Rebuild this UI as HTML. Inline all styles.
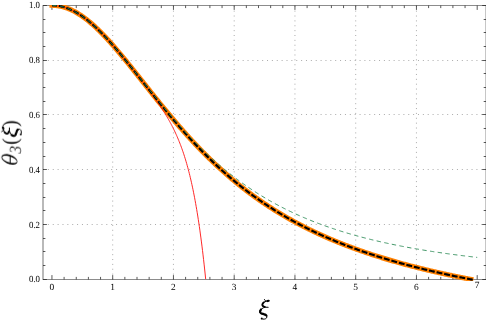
<!DOCTYPE html>
<html><head><meta charset="utf-8"><style>html,body{margin:0;padding:0;background:#fff;}body{width:486px;height:321px;overflow:hidden;font-family:"Liberation Serif",serif;}svg{display:block;}</style></head><body>
<svg width="486" height="321" viewBox="0 0 486 321">
<rect width="486" height="321" fill="#fff"/>
<path d="M112.70,279.50V5.50M173.45,279.50V5.50M234.20,279.50V5.50M294.95,279.50V5.50M355.70,279.50V5.50M416.45,279.50V5.50M43.00,224.50H486.10M43.00,169.50H486.10M43.00,114.50H486.10M43.00,60.50H486.10" stroke="#969696" stroke-width="0.8" stroke-dasharray="1 3.87" fill="none"/>
<path d="M43.00,5.50V279.50M486.10,5.50V279.50" stroke="#222" stroke-width="0.64" fill="none"/>
<path d="M42.70,5.50H486.10M42.70,279.50H486.10" stroke="#505050" stroke-width="0.66" fill="none"/>
<path d="M51.95,279.50v-4.4M51.95,5.50v4.4M64.10,279.50v-2.6M64.10,5.50v2.6M76.25,279.50v-2.6M76.25,5.50v2.6M88.40,279.50v-2.6M88.40,5.50v2.6M100.55,279.50v-2.6M100.55,5.50v2.6M112.70,279.50v-4.4M112.70,5.50v4.4M124.85,279.50v-2.6M124.85,5.50v2.6M137.00,279.50v-2.6M137.00,5.50v2.6M149.15,279.50v-2.6M149.15,5.50v2.6M161.30,279.50v-2.6M161.30,5.50v2.6M173.45,279.50v-4.4M173.45,5.50v4.4M185.60,279.50v-2.6M185.60,5.50v2.6M197.75,279.50v-2.6M197.75,5.50v2.6M209.90,279.50v-2.6M209.90,5.50v2.6M222.05,279.50v-2.6M222.05,5.50v2.6M234.20,279.50v-4.4M234.20,5.50v4.4M246.35,279.50v-2.6M246.35,5.50v2.6M258.50,279.50v-2.6M258.50,5.50v2.6M270.65,279.50v-2.6M270.65,5.50v2.6M282.80,279.50v-2.6M282.80,5.50v2.6M294.95,279.50v-4.4M294.95,5.50v4.4M307.10,279.50v-2.6M307.10,5.50v2.6M319.25,279.50v-2.6M319.25,5.50v2.6M331.40,279.50v-2.6M331.40,5.50v2.6M343.55,279.50v-2.6M343.55,5.50v2.6M355.70,279.50v-4.4M355.70,5.50v4.4M367.85,279.50v-2.6M367.85,5.50v2.6M380.00,279.50v-2.6M380.00,5.50v2.6M392.15,279.50v-2.6M392.15,5.50v2.6M404.30,279.50v-2.6M404.30,5.50v2.6M416.45,279.50v-4.4M416.45,5.50v4.4M428.60,279.50v-2.6M428.60,5.50v2.6M440.75,279.50v-2.6M440.75,5.50v2.6M452.90,279.50v-2.6M452.90,5.50v2.6M465.05,279.50v-2.6M465.05,5.50v2.6M477.20,279.50v-4.4M477.20,5.50v4.4M43.00,279.50h3.9M486.10,279.50h-3.9M43.00,265.50h2.4M486.10,265.50h-2.4M43.00,251.50h2.4M486.10,251.50h-2.4M43.00,238.50h2.4M486.10,238.50h-2.4M43.00,224.50h3.9M486.10,224.50h-3.9M43.00,210.50h2.4M486.10,210.50h-2.4M43.00,197.50h2.4M486.10,197.50h-2.4M43.00,183.50h2.4M486.10,183.50h-2.4M43.00,169.50h3.9M486.10,169.50h-3.9M43.00,156.50h2.4M486.10,156.50h-2.4M43.00,142.50h2.4M486.10,142.50h-2.4M43.00,128.50h2.4M486.10,128.50h-2.4M43.00,114.50h3.9M486.10,114.50h-3.9M43.00,101.50h2.4M486.10,101.50h-2.4M43.00,87.50h2.4M486.10,87.50h-2.4M43.00,73.50h2.4M486.10,73.50h-2.4M43.00,60.50h3.9M486.10,60.50h-3.9M43.00,46.50h2.4M486.10,46.50h-2.4M43.00,32.50h2.4M486.10,32.50h-2.4M43.00,19.50h2.4M486.10,19.50h-2.4M43.00,5.50h3.9M486.10,5.50h-3.9" stroke="#222" stroke-width="0.75" fill="none"/>
<clipPath id="c"><rect x="43.0" y="5" width="443.1" height="275.9"/></clipPath>
<g fill="none" clip-path="url(#c)">
<path d="M51.95,5.35 L51.96,5.35 L52.80,5.36 L53.64,5.39 L54.47,5.43 L55.31,5.49 L56.15,5.57 L56.99,5.66 L57.83,5.78 L58.67,5.91 L59.51,6.06 L60.35,6.22 L61.19,6.40 L62.03,6.60 L62.87,6.82 L63.71,7.05 L64.55,7.30 L65.39,7.57 L66.23,7.85 L67.07,8.15 L67.91,8.47 L68.75,8.80 L69.59,9.15 L70.43,9.52 L71.27,9.90 L72.11,10.30 L72.95,10.71 L73.79,11.14 L74.63,11.58 L75.47,12.04 L76.31,12.52 L77.14,13.01 L77.98,13.51 L78.82,14.03 L79.66,14.57 L80.50,15.11 L81.34,15.68 L82.18,16.25 L83.02,16.85 L83.86,17.45 L84.70,18.07 L85.54,18.70 L86.38,19.34 L87.22,20.00 L88.06,20.67 L88.90,21.36 L89.74,22.05 L90.58,22.76 L91.42,23.48 L92.26,24.21 L93.10,24.95 L93.94,25.71 L94.78,26.47 L95.62,27.25 L96.46,28.03 L97.30,28.83 L98.14,29.64 L98.98,30.46 L99.81,31.29 L100.65,32.12 L101.49,32.97 L102.33,33.83 L103.17,34.69 L104.01,35.56 L104.85,36.45 L105.69,37.34 L106.53,38.23 L107.37,39.14 L108.21,40.06 L109.05,40.98 L109.89,41.91 L110.73,42.84 L111.57,43.78 L112.41,44.73 L113.25,45.69 L114.09,46.65 L114.93,47.62 L115.77,48.59 L116.61,49.57 L117.45,50.56 L118.29,51.55 L119.13,52.54 L119.97,53.54 L120.81,54.55 L121.65,55.55 L122.48,56.57 L123.32,57.58 L124.16,58.60 L125.00,59.63 L125.84,60.65 L126.68,61.69 L127.52,62.72 L128.36,63.76 L129.20,64.80 L130.04,65.84 L130.88,66.88 L131.72,67.93 L132.56,68.98 L133.40,70.03 L134.24,71.08 L135.08,72.13 L135.92,73.19 L136.76,74.24 L137.60,75.30 L138.44,76.36 L139.28,77.41 L140.12,78.47 L140.96,79.53 L141.80,80.59 L142.64,81.65 L143.48,82.71 L144.32,83.77 L145.15,84.83 L145.99,85.89 L146.83,86.95 L147.67,88.01 L148.51,89.07 L149.35,90.12 L150.19,91.18 L151.03,92.23 L151.87,93.29 L152.71,94.34 L153.55,95.39 L154.39,96.44 L155.23,97.49 L156.07,98.53 L156.91,99.58 L157.75,100.62 L158.59,101.66 L159.43,102.70 L160.27,103.73 L161.11,104.76 L161.95,105.80 L162.79,106.82 L163.63,107.85 L164.47,108.88 L165.31,109.90 L166.15,110.91 L166.99,111.93 L167.82,112.94 L168.66,113.95 L169.50,114.96 L170.34,115.96 L171.18,116.96 L172.02,117.96 L172.86,118.96 L173.70,119.95 L174.54,120.93 L175.38,121.92 L176.22,122.90 L177.06,123.88 L177.90,124.85 L178.74,125.82 L179.58,126.79 L180.42,127.75 L181.26,128.71 L182.10,129.66 L182.94,130.62 L183.78,131.56 L184.62,132.51 L185.46,133.45 L186.30,134.38 L187.14,135.32 L187.98,136.24 L188.82,137.17 L189.66,138.09 L190.49,139.01 L191.33,139.92 L192.17,140.83 L193.01,141.73 L193.85,142.63 L194.69,143.53 L195.53,144.42 L196.37,145.31 L197.21,146.19 L198.05,147.07 L198.89,147.94 L199.73,148.81 L200.57,149.68 L201.41,150.54 L202.25,151.40 L203.09,152.26 L203.93,153.11 L204.77,153.95 L205.61,154.79 L206.45,155.63 L207.29,156.46 L208.13,157.29 L208.97,158.12 L209.81,158.94 L210.65,159.75 L211.49,160.56 L212.33,161.37 L213.16,162.17 L214.00,162.97 L214.84,163.77 L215.68,164.56 L216.52,165.34 L217.36,166.12 L218.20,166.90 L219.04,167.67 L219.88,168.44 L220.72,169.21 L221.56,169.97 L222.40,170.73 L223.24,171.48 L224.08,172.23 L224.92,172.97 L225.76,173.71 L226.60,174.45 L227.44,175.18 L228.28,175.91 L229.12,176.63 L229.96,177.35 L230.80,178.06 L231.64,178.78 L232.48,179.48 L233.32,180.19 L234.16,180.88 L235.00,181.58 L235.83,182.27 L236.67,182.96 L237.51,183.64 L238.35,184.32 L239.19,185.00 L240.03,185.67 L240.87,186.34 L241.71,187.00 L242.55,187.66 L243.39,188.32 L244.23,188.97 L245.07,189.62 L245.91,190.26 L246.75,190.90 L247.59,191.54 L248.43,192.17 L249.27,192.80 L250.11,193.43 L250.95,194.05 L251.79,194.67 L252.63,195.28 L253.47,195.90 L254.31,196.50 L255.15,197.11 L255.99,197.71 L256.83,198.31 L257.67,198.90 L258.50,199.49 L259.34,200.08 L260.18,200.66 L261.02,201.24 L261.86,201.82 L262.70,202.39 L263.54,202.96 L264.38,203.52 L265.22,204.09 L266.06,204.65 L266.90,205.20 L267.74,205.76 L268.58,206.31 L269.42,206.85 L270.26,207.39 L271.10,207.93 L271.94,208.47 L272.78,209.00 L273.62,209.53 L274.46,210.06 L275.30,210.59 L276.14,211.11 L276.98,211.62 L277.82,212.14 L278.66,212.65 L279.50,213.16 L280.33,213.67 L281.17,214.17 L282.01,214.67 L282.85,215.17 L283.69,215.66 L284.53,216.15 L285.37,216.64 L286.21,217.12 L287.05,217.61 L287.89,218.09 L288.73,218.56 L289.57,219.04 L290.41,219.51 L291.25,219.98 L292.09,220.44 L292.93,220.90 L293.77,221.36 L294.61,221.82 L295.45,222.28 L296.29,222.73 L297.13,223.18 L297.97,223.63 L298.81,224.07 L299.65,224.51 L300.49,224.95 L301.33,225.39 L302.17,225.82 L303.00,226.25 L303.84,226.68 L304.68,227.11 L305.52,227.53 L306.36,227.95 L307.20,228.37 L308.04,228.79 L308.88,229.20 L309.72,229.62 L310.56,230.03 L311.40,230.43 L312.24,230.84 L313.08,231.24 L313.92,231.64 L314.76,232.04 L315.60,232.44 L316.44,232.83 L317.28,233.22 L318.12,233.61 L318.96,234.00 L319.80,234.38 L320.64,234.76 L321.48,235.14 L322.32,235.52 L323.16,235.90 L324.00,236.27 L324.84,236.65 L325.67,237.01 L326.51,237.38 L327.35,237.75 L328.19,238.11 L329.03,238.47 L329.87,238.83 L330.71,239.19 L331.55,239.55 L332.39,239.90 L333.23,240.25 L334.07,240.60 L334.91,240.95 L335.75,241.30 L336.59,241.64 L337.43,241.98 L338.27,242.32 L339.11,242.66 L339.95,243.00 L340.79,243.33 L341.63,243.66 L342.47,244.00 L343.31,244.33 L344.15,244.65 L344.99,244.98 L345.83,245.30 L346.67,245.63 L347.51,245.95 L348.34,246.26 L349.18,246.58 L350.02,246.90 L350.86,247.21 L351.70,247.52 L352.54,247.83 L353.38,248.14 L354.22,248.45 L355.06,248.75 L355.90,249.06 L356.74,249.36 L357.58,249.66 L358.42,249.96 L359.26,250.26 L360.10,250.55 L360.94,250.85 L361.78,251.14 L362.62,251.43 L363.46,251.72 L364.30,252.01 L365.14,252.30 L365.98,252.58 L366.82,252.87 L367.66,253.15 L368.50,253.43 L369.34,253.71 L370.18,253.99 L371.01,254.26 L371.85,254.54 L372.69,254.81 L373.53,255.09 L374.37,255.36 L375.21,255.63 L376.05,255.89 L376.89,256.16 L377.73,256.43 L378.57,256.69 L379.41,256.95 L380.25,257.22 L381.09,257.48 L381.93,257.74 L382.77,257.99 L383.61,258.25 L384.45,258.50 L385.29,258.76 L386.13,259.01 L386.97,259.26 L387.81,259.51 L388.65,259.76 L389.49,260.01 L390.33,260.26 L391.17,260.50 L392.01,260.75 L392.85,260.99 L393.68,261.23 L394.52,261.47 L395.36,261.71 L396.20,261.95 L397.04,262.19 L397.88,262.42 L398.72,262.66 L399.56,262.89 L400.40,263.12 L401.24,263.36 L402.08,263.59 L402.92,263.81 L403.76,264.04 L404.60,264.27 L405.44,264.50 L406.28,264.72 L407.12,264.95 L407.96,265.17 L408.80,265.39 L409.64,265.61 L410.48,265.83 L411.32,266.05 L412.16,266.27 L413.00,266.48 L413.84,266.70 L414.68,266.92 L415.52,267.13 L416.35,267.34 L417.19,267.55 L418.03,267.76 L418.87,267.97 L419.71,268.18 L420.55,268.39 L421.39,268.60 L422.23,268.80 L423.07,269.01 L423.91,269.21 L424.75,269.42 L425.59,269.62 L426.43,269.82 L427.27,270.02 L428.11,270.22 L428.95,270.42 L429.79,270.62 L430.63,270.82 L431.47,271.01 L432.31,271.21 L433.15,271.40 L433.99,271.60 L434.83,271.79 L435.67,271.98 L436.51,272.17 L437.35,272.36 L438.19,272.55 L439.02,272.74 L439.86,272.93 L440.70,273.12 L441.54,273.30 L442.38,273.49 L443.22,273.67 L444.06,273.86 L444.90,274.04 L445.74,274.22 L446.58,274.40 L447.42,274.58 L448.26,274.76 L449.10,274.94 L449.94,275.12 L450.78,275.30 L451.62,275.48 L452.46,275.65 L453.30,275.83 L454.14,276.00 L454.98,276.18 L455.82,276.35 L456.66,276.52 L457.50,276.69 L458.34,276.86 L459.18,277.03 L460.02,277.20 L460.86,277.37 L461.69,277.54 L462.53,277.71 L463.37,277.88 L464.21,278.04 L465.05,278.21 L465.89,278.37 L466.73,278.54 L467.57,278.70 L468.41,278.86 L469.25,279.03 L470.09,279.19 L470.93,279.35" stroke="#ff8000" stroke-width="5" stroke-linecap="square"/>
<path d="M51.95,5.35 L52.48,5.35 L53.01,5.36 L53.53,5.38 L54.06,5.41 L54.59,5.44 L55.12,5.47 L55.65,5.52 L56.18,5.57 L56.70,5.63 L57.23,5.69 L57.76,5.77 L58.29,5.85 L58.82,5.93 L59.35,6.03 L59.87,6.12 L60.40,6.23 L60.93,6.34 L61.46,6.46 L61.99,6.59 L62.52,6.72 L63.04,6.87 L63.57,7.01 L64.10,7.17 L64.63,7.33 L65.16,7.49 L65.68,7.67 L66.21,7.85 L66.74,8.03 L67.27,8.23 L67.80,8.43 L68.33,8.63 L68.85,8.85 L69.38,9.06 L69.91,9.29 L70.44,9.52 L70.97,9.76 L71.50,10.00 L72.02,10.26 L72.55,10.51 L73.08,10.78 L73.61,11.05 L74.14,11.32 L74.67,11.60 L75.19,11.89 L75.72,12.19 L76.25,12.49 L76.78,12.79 L77.31,13.10 L77.83,13.42 L78.36,13.74 L78.89,14.07 L79.42,14.41 L79.95,14.75 L80.48,15.10 L81.00,15.45 L81.53,15.81 L82.06,16.17 L82.59,16.54 L83.12,16.91 L83.65,17.29 L84.17,17.68 L84.70,18.07 L85.23,18.46 L85.76,18.87 L86.29,19.27 L86.82,19.68 L87.34,20.10 L87.87,20.52 L88.40,20.95 L88.93,21.38 L89.46,21.82 L89.98,22.26 L90.51,22.70 L91.04,23.15 L91.57,23.61 L92.10,24.07 L92.63,24.53 L93.15,25.00 L93.68,25.48 L94.21,25.95 L94.74,26.44 L95.27,26.92 L95.80,27.41 L96.32,27.91 L96.85,28.41 L97.38,28.91 L97.91,29.42 L98.44,29.93 L98.97,30.45 L99.49,30.97 L100.02,31.49 L100.55,32.02 L101.08,32.55 L101.61,33.08 L102.13,33.62 L102.66,34.16 L103.19,34.71 L103.72,35.26 L104.25,35.81 L104.78,36.37 L105.30,36.92 L105.83,37.49 L106.36,38.05 L106.89,38.62 L107.42,39.19 L107.95,39.77 L108.47,40.34 L109.00,40.92 L109.53,41.51 L110.06,42.09 L110.59,42.68 L111.12,43.28 L111.64,43.87 L112.17,44.47 L112.70,45.07 L113.23,45.67 L113.76,46.27 L114.28,46.88 L114.81,47.49 L115.34,48.10 L115.87,48.72 L116.40,49.33 L116.93,49.95 L117.45,50.57 L117.98,51.20 L118.51,51.82 L119.04,52.45 L119.57,53.08 L120.10,53.71 L120.62,54.34 L121.15,54.98 L121.68,55.61 L122.21,56.25 L122.74,56.89 L123.27,57.53 L123.79,58.17 L124.32,58.82 L124.85,59.47 L125.38,60.11 L125.91,60.76 L126.43,61.41 L126.96,62.07 L127.49,62.72 L128.02,63.38 L128.55,64.03 L129.08,64.69 L129.60,65.35 L130.13,66.01 L130.66,66.67 L131.19,67.33 L131.72,68.00 L132.25,68.66 L132.77,69.33 L133.30,70.00 L133.83,70.66 L134.36,71.33 L134.89,72.01 L135.42,72.68 L135.94,73.35 L136.47,74.02 L137.00,74.70 L137.53,75.38 L138.06,76.05 L138.58,76.73 L139.11,77.41 L139.64,78.09 L140.17,78.78 L140.70,79.46 L141.23,80.14 L141.75,80.83 L142.28,81.52 L142.81,82.21 L143.34,82.89 L143.87,83.59 L144.40,84.28 L144.92,84.97 L145.45,85.67 L145.98,86.37 L146.51,87.06 L147.04,87.77 L147.57,88.47 L148.09,89.17 L148.62,89.88 L149.15,90.59 L149.68,91.30 L150.21,92.01 L150.73,92.73 L151.26,93.44 L151.79,94.16 L152.32,94.89 L152.85,95.61 L153.38,96.34 L153.90,97.07 L154.43,97.81 L154.96,98.55 L155.49,99.29 L156.02,100.03 L156.55,100.78 L157.07,101.54 L157.60,102.30 L158.13,103.06 L158.66,103.83 L159.19,104.60 L159.72,105.38 L160.24,106.17 L160.77,106.96 L161.30,107.76 L161.83,108.56 L162.36,109.37 L162.88,110.19 L163.41,111.01 L163.94,111.85 L164.47,112.69 L165.00,113.54 L165.53,114.40 L166.05,115.26 L166.58,116.14 L167.11,117.03 L167.64,117.93 L168.17,118.84 L168.70,119.77 L169.22,120.70 L169.75,121.65 L170.28,122.61 L170.81,123.59 L171.34,124.58 L171.87,125.59 L172.39,126.61 L172.92,127.65 L173.45,128.70 L173.98,129.78 L174.51,130.87 L175.03,131.99 L175.56,133.12 L176.09,134.28 L176.62,135.46 L177.15,136.66 L177.68,137.88 L178.20,139.14 L178.73,140.41 L179.26,141.72 L179.79,143.05 L180.32,144.41 L180.85,145.81 L181.37,147.23 L181.90,148.69 L182.43,150.19 L182.96,151.71 L183.49,153.28 L184.02,154.88 L184.54,156.53 L185.07,158.22 L185.60,159.94 L186.13,161.72 L186.66,163.54 L187.18,165.41 L187.71,167.32 L188.24,169.29 L188.77,171.32 L189.30,173.40 L189.83,175.53 L190.35,177.73 L190.88,179.98 L191.41,182.31 L191.94,184.69 L192.47,187.15 L193.00,189.67 L193.52,192.27 L194.05,194.95 L194.58,197.70 L195.11,200.53 L195.64,203.45 L196.17,206.46 L196.69,209.55 L197.22,212.74 L197.75,216.02 L198.28,219.40 L198.81,222.88 L199.33,226.47 L199.86,230.17 L200.39,233.98 L200.92,237.91 L201.45,241.95 L201.98,246.12 L202.50,250.42 L203.03,254.85 L203.56,259.41 L204.09,264.12 L204.62,268.97 L205.15,273.97 L205.67,279.12" stroke="#ff1010" stroke-width="0.9"/>
<path d="M51.95,5.35 L51.96,5.35 L52.80,5.36 L53.64,5.39 L54.47,5.43 L55.31,5.49 L56.15,5.57 L56.99,5.66 L57.83,5.78 L58.67,5.91 L59.51,6.06 L60.35,6.22 L61.19,6.40 L62.03,6.60 L62.87,6.82 L63.71,7.05 L64.55,7.30 L65.39,7.57 L66.23,7.85 L67.07,8.15 L67.91,8.47 L68.75,8.80 L69.59,9.15 L70.43,9.52 L71.27,9.90 L72.11,10.30 L72.95,10.71 L73.79,11.14 L74.63,11.58 L75.47,12.04 L76.31,12.52 L77.14,13.01 L77.98,13.51 L78.82,14.03 L79.66,14.57 L80.50,15.11 L81.34,15.68 L82.18,16.25 L83.02,16.85 L83.86,17.45 L84.70,18.07 L85.54,18.70 L86.38,19.34 L87.22,20.00 L88.06,20.67 L88.90,21.36 L89.74,22.05 L90.58,22.76 L91.42,23.48 L92.26,24.21 L93.10,24.95 L93.94,25.71 L94.78,26.47 L95.62,27.25 L96.46,28.03 L97.30,28.83 L98.14,29.64 L98.98,30.46 L99.81,31.29 L100.65,32.12 L101.49,32.97 L102.33,33.83 L103.17,34.69 L104.01,35.56 L104.85,36.45 L105.69,37.34 L106.53,38.23 L107.37,39.14 L108.21,40.06 L109.05,40.98 L109.89,41.91 L110.73,42.84 L111.57,43.78 L112.41,44.73 L113.25,45.69 L114.09,46.65 L114.93,47.62 L115.77,48.59 L116.61,49.57 L117.45,50.56 L118.29,51.55 L119.13,52.54 L119.97,53.54 L120.81,54.55 L121.65,55.55 L122.48,56.57 L123.32,57.58 L124.16,58.60 L125.00,59.63 L125.84,60.65 L126.68,61.69 L127.52,62.72 L128.36,63.76 L129.20,64.80 L130.04,65.84 L130.88,66.88 L131.72,67.93 L132.56,68.98 L133.40,70.03 L134.24,71.08 L135.08,72.13 L135.92,73.19 L136.76,74.24 L137.60,75.30 L138.44,76.36 L139.28,77.41 L140.12,78.47 L140.96,79.53 L141.80,80.59 L142.64,81.65 L143.48,82.71 L144.32,83.77 L145.15,84.83 L145.99,85.89 L146.83,86.95 L147.67,88.01 L148.51,89.07 L149.35,90.12 L150.19,91.18 L151.03,92.23 L151.87,93.29 L152.71,94.34 L153.55,95.39 L154.39,96.44 L155.23,97.49 L156.07,98.53 L156.91,99.58 L157.75,100.62 L158.59,101.66 L159.43,102.70 L160.27,103.73 L161.11,104.76 L161.95,105.80 L162.79,106.82 L163.63,107.85 L164.47,108.88 L165.31,109.90 L166.15,110.91 L166.99,111.93 L167.82,112.94 L168.66,113.95 L169.50,114.96 L170.34,115.96 L171.18,116.96 L172.02,117.96 L172.86,118.96 L173.70,119.95 L174.54,120.93 L175.38,121.92 L176.22,122.90 L177.06,123.88 L177.90,124.85 L178.74,125.82 L179.58,126.79 L180.42,127.75 L181.26,128.71 L182.10,129.66 L182.94,130.62 L183.78,131.56 L184.62,132.51 L185.46,133.45 L186.30,134.38 L187.14,135.32 L187.98,136.24 L188.82,137.17 L189.66,138.09 L190.49,139.01 L191.33,139.92 L192.17,140.83 L193.01,141.73 L193.85,142.63 L194.69,143.53 L195.53,144.42 L196.37,145.31 L197.21,146.19 L198.05,147.07 L198.89,147.94 L199.73,148.81 L200.57,149.68 L201.41,150.54 L202.25,151.40 L203.09,152.26 L203.93,153.11 L204.77,153.95 L205.61,154.79 L206.45,155.63 L207.29,156.46 L208.13,157.29 L208.97,158.12 L209.81,158.94 L210.65,159.75 L211.49,160.56 L212.33,161.37 L213.16,162.17 L214.00,162.97 L214.84,163.77 L215.68,164.56 L216.52,165.34 L217.36,166.12 L218.20,166.90 L219.04,167.67 L219.88,168.44 L220.72,169.21 L221.56,169.97 L222.40,170.73 L223.24,171.48 L224.08,172.23 L224.92,172.97 L225.76,173.71 L226.60,174.45 L227.44,175.18 L228.28,175.91 L229.12,176.63 L229.96,177.35 L230.80,178.06 L231.64,178.78 L232.48,179.48 L233.32,180.19 L234.16,180.88 L235.00,181.58 L235.83,182.27 L236.67,182.96 L237.51,183.64 L238.35,184.32 L239.19,185.00 L240.03,185.67 L240.87,186.34 L241.71,187.00 L242.55,187.66 L243.39,188.32 L244.23,188.97 L245.07,189.62 L245.91,190.26 L246.75,190.90 L247.59,191.54 L248.43,192.17 L249.27,192.80 L250.11,193.43 L250.95,194.05 L251.79,194.67 L252.63,195.28 L253.47,195.90 L254.31,196.50 L255.15,197.11 L255.99,197.71 L256.83,198.31 L257.67,198.90 L258.50,199.49 L259.34,200.08 L260.18,200.66 L261.02,201.24 L261.86,201.82 L262.70,202.39 L263.54,202.96 L264.38,203.52 L265.22,204.09 L266.06,204.65 L266.90,205.20 L267.74,205.76 L268.58,206.31 L269.42,206.85 L270.26,207.39 L271.10,207.93 L271.94,208.47 L272.78,209.00 L273.62,209.53 L274.46,210.06 L275.30,210.59 L276.14,211.11 L276.98,211.62 L277.82,212.14 L278.66,212.65 L279.50,213.16 L280.33,213.67 L281.17,214.17 L282.01,214.67 L282.85,215.17 L283.69,215.66 L284.53,216.15 L285.37,216.64 L286.21,217.12 L287.05,217.61 L287.89,218.09 L288.73,218.56 L289.57,219.04 L290.41,219.51 L291.25,219.98 L292.09,220.44 L292.93,220.90 L293.77,221.36 L294.61,221.82 L295.45,222.28 L296.29,222.73 L297.13,223.18 L297.97,223.63 L298.81,224.07 L299.65,224.51 L300.49,224.95 L301.33,225.39 L302.17,225.82 L303.00,226.25 L303.84,226.68 L304.68,227.11 L305.52,227.53 L306.36,227.95 L307.20,228.37 L308.04,228.79 L308.88,229.20 L309.72,229.62 L310.56,230.03 L311.40,230.43 L312.24,230.84 L313.08,231.24 L313.92,231.64 L314.76,232.04 L315.60,232.44 L316.44,232.83 L317.28,233.22 L318.12,233.61 L318.96,234.00 L319.80,234.38 L320.64,234.76 L321.48,235.14 L322.32,235.52 L323.16,235.90 L324.00,236.27 L324.84,236.65 L325.67,237.01 L326.51,237.38 L327.35,237.75 L328.19,238.11 L329.03,238.47 L329.87,238.83 L330.71,239.19 L331.55,239.55 L332.39,239.90 L333.23,240.25 L334.07,240.60 L334.91,240.95 L335.75,241.30 L336.59,241.64 L337.43,241.98 L338.27,242.32 L339.11,242.66 L339.95,243.00 L340.79,243.33 L341.63,243.66 L342.47,244.00 L343.31,244.33 L344.15,244.65 L344.99,244.98 L345.83,245.30 L346.67,245.63 L347.51,245.95 L348.34,246.26 L349.18,246.58 L350.02,246.90 L350.86,247.21 L351.70,247.52 L352.54,247.83 L353.38,248.14 L354.22,248.45 L355.06,248.75 L355.90,249.06 L356.74,249.36 L357.58,249.66 L358.42,249.96 L359.26,250.26 L360.10,250.55 L360.94,250.85 L361.78,251.14 L362.62,251.43 L363.46,251.72 L364.30,252.01 L365.14,252.30 L365.98,252.58 L366.82,252.87 L367.66,253.15 L368.50,253.43 L369.34,253.71 L370.18,253.99 L371.01,254.26 L371.85,254.54 L372.69,254.81 L373.53,255.09 L374.37,255.36 L375.21,255.63 L376.05,255.89 L376.89,256.16 L377.73,256.43 L378.57,256.69 L379.41,256.95 L380.25,257.22 L381.09,257.48 L381.93,257.74 L382.77,257.99 L383.61,258.25 L384.45,258.50 L385.29,258.76 L386.13,259.01 L386.97,259.26 L387.81,259.51 L388.65,259.76 L389.49,260.01 L390.33,260.26 L391.17,260.50 L392.01,260.75 L392.85,260.99 L393.68,261.23 L394.52,261.47 L395.36,261.71 L396.20,261.95 L397.04,262.19 L397.88,262.42 L398.72,262.66 L399.56,262.89 L400.40,263.12 L401.24,263.36 L402.08,263.59 L402.92,263.81 L403.76,264.04 L404.60,264.27 L405.44,264.50 L406.28,264.72 L407.12,264.95 L407.96,265.17 L408.80,265.39 L409.64,265.61 L410.48,265.83 L411.32,266.05 L412.16,266.27 L413.00,266.48 L413.84,266.70 L414.68,266.92 L415.52,267.13 L416.35,267.34 L417.19,267.55 L418.03,267.76 L418.87,267.97 L419.71,268.18 L420.55,268.39 L421.39,268.60 L422.23,268.80 L423.07,269.01 L423.91,269.21 L424.75,269.42 L425.59,269.62 L426.43,269.82 L427.27,270.02 L428.11,270.22 L428.95,270.42 L429.79,270.62 L430.63,270.82 L431.47,271.01 L432.31,271.21 L433.15,271.40 L433.99,271.60 L434.83,271.79 L435.67,271.98 L436.51,272.17 L437.35,272.36 L438.19,272.55 L439.02,272.74 L439.86,272.93 L440.70,273.12 L441.54,273.30 L442.38,273.49 L443.22,273.67 L444.06,273.86 L444.90,274.04 L445.74,274.22 L446.58,274.40 L447.42,274.58 L448.26,274.76 L449.10,274.94 L449.94,275.12 L450.78,275.30 L451.62,275.48 L452.46,275.65 L453.30,275.83 L454.14,276.00 L454.98,276.18 L455.82,276.35 L456.66,276.52 L457.50,276.69 L458.34,276.86 L459.18,277.03 L460.02,277.20 L460.86,277.37 L461.69,277.54 L462.53,277.71 L463.37,277.88 L464.21,278.04 L465.05,278.21 L465.89,278.37 L466.73,278.54 L467.57,278.70 L468.41,278.86 L469.25,279.03 L470.09,279.19 L470.93,279.35 L472.75,279.70" stroke="#000" stroke-width="2.15" stroke-dasharray="5.9 1.88" stroke-dashoffset="0.85"/>
<path d="M51.95,5.35 L53.02,5.36 L54.08,5.41 L55.15,5.48 L56.21,5.57 L57.28,5.70 L58.34,5.86 L59.41,6.04 L60.48,6.25 L61.54,6.48 L62.61,6.75 L63.67,7.04 L64.74,7.36 L65.81,7.71 L66.87,8.08 L67.94,8.48 L69.00,8.91 L70.07,9.36 L71.13,9.84 L72.20,10.34 L73.27,10.87 L74.33,11.42 L75.40,12.00 L76.46,12.61 L77.53,13.24 L78.59,13.89 L79.66,14.56 L80.73,15.26 L81.79,15.98 L82.86,16.73 L83.92,17.49 L84.99,18.28 L86.06,19.09 L87.12,19.92 L88.19,20.77 L89.25,21.64 L90.32,22.54 L91.38,23.45 L92.45,24.37 L93.52,25.32 L94.58,26.29 L95.65,27.27 L96.71,28.27 L97.78,29.29 L98.84,30.32 L99.91,31.37 L100.98,32.44 L102.04,33.52 L103.11,34.61 L104.17,35.72 L105.24,36.84 L106.31,37.97 L107.37,39.12 L108.44,40.28 L109.50,41.45 L110.57,42.64 L111.63,43.83 L112.70,45.03 L113.77,46.25 L114.83,47.47 L115.90,48.70 L116.96,49.94 L118.03,51.19 L119.09,52.45 L120.16,53.72 L121.23,54.99 L122.29,56.27 L123.36,57.55 L124.42,58.84 L125.49,60.14 L126.56,61.44 L127.62,62.74 L128.69,64.05 L129.75,65.37 L130.82,66.68 L131.88,68.00 L132.95,69.32 L134.02,70.65 L135.08,71.98 L136.15,73.31 L137.21,74.64 L138.28,75.97 L139.34,77.30 L140.41,78.63 L141.48,79.96 L142.54,81.30 L143.61,82.63 L144.67,83.96 L145.74,85.29 L146.81,86.62 L147.87,87.95 L148.94,89.27 L150.00,90.59 L151.07,91.92 L152.13,93.23 L153.20,94.55 L154.27,95.86 L155.33,97.17 L156.40,98.48 L157.46,99.78 L158.53,101.08 L159.59,102.37 L160.66,103.66 L161.73,104.95 L162.79,106.23 L163.86,107.51 L164.92,108.78 L165.99,110.05 L167.06,111.31 L168.12,112.57 L169.19,113.82 L170.25,115.06 L171.32,116.30 L172.38,117.54 L173.45,118.77 L174.52,119.99 L175.58,121.20 L176.65,122.41 L177.71,123.61 L178.78,124.81 L179.84,126.00 L180.91,127.18 L181.98,128.36 L183.04,129.53 L184.11,130.69 L185.17,131.85 L186.24,133.00 L187.31,134.14 L188.37,135.28 L189.44,136.40 L190.50,137.52 L191.57,138.64 L192.63,139.74 L193.70,140.84 L194.77,141.93 L195.83,143.02 L196.90,144.09 L197.96,145.16 L199.03,146.23 L200.09,147.28 L201.16,148.33 L202.23,149.37 L203.29,150.40 L204.36,151.42 L205.42,152.44 L206.49,153.45 L207.56,154.45 L208.62,155.44 L209.69,156.43 L210.75,157.41 L211.82,158.38 L212.88,159.35 L213.95,160.30 L215.02,161.25 L216.08,162.19 L217.15,163.13 L218.21,164.05 L219.28,164.97 L220.34,165.89 L221.41,166.79 L222.48,167.69 L223.54,168.58 L224.61,169.46 L225.67,170.34 L226.74,171.21 L227.81,172.07 L228.87,172.92 L229.94,173.77 L231.00,174.61 L232.07,175.44 L233.13,176.27 L234.20,177.09 L235.27,177.90 L236.33,178.70 L237.40,179.50 L238.46,180.29 L239.53,181.08 L240.59,181.86 L241.66,182.63 L242.73,183.39 L243.79,184.15 L244.86,184.90 L245.92,185.65 L246.99,186.38 L248.06,187.12 L249.12,187.84 L250.19,188.56 L251.25,189.27 L252.32,189.98 L253.38,190.68 L254.45,191.37 L255.52,192.06 L256.58,192.74 L257.65,193.42 L258.71,194.09 L259.78,194.75 L260.84,195.41 L261.91,196.06 L262.98,196.71 L264.04,197.35 L265.11,197.99 L266.17,198.62 L267.24,199.24 L268.31,199.86 L269.37,200.47 L270.44,201.08 L271.50,201.68 L272.57,202.27 L273.63,202.86 L274.70,203.45 L275.77,204.03 L276.83,204.61 L277.90,205.17 L278.96,205.74 L280.03,206.30 L281.09,206.85 L282.16,207.40 L283.23,207.95 L284.29,208.49 L285.36,209.02 L286.42,209.55 L287.49,210.08 L288.56,210.60 L289.62,211.11 L290.69,211.62 L291.75,212.13 L292.82,212.63 L293.88,213.13 L294.95,213.62 L296.02,214.11 L297.08,214.60 L298.15,215.08 L299.21,215.55 L300.28,216.02 L301.34,216.49 L302.41,216.95 L303.48,217.41 L304.54,217.86 L305.61,218.31 L306.67,218.76 L307.74,219.20 L308.81,219.64 L309.87,220.08 L310.94,220.51 L312.00,220.93 L313.07,221.36 L314.13,221.77 L315.20,222.19 L316.27,222.60 L317.33,223.01 L318.40,223.41 L319.46,223.81 L320.53,224.21 L321.59,224.61 L322.66,225.00 L323.73,225.38 L324.79,225.76 L325.86,226.14 L326.92,226.52 L327.99,226.89 L329.06,227.26 L330.12,227.63 L331.19,227.99 L332.25,228.35 L333.32,228.71 L334.38,229.06 L335.45,229.42 L336.52,229.76 L337.58,230.11 L338.65,230.45 L339.71,230.79 L340.78,231.12 L341.84,231.46 L342.91,231.78 L343.98,232.11 L345.04,232.44 L346.11,232.76 L347.17,233.08 L348.24,233.39 L349.31,233.70 L350.37,234.01 L351.44,234.32 L352.50,234.63 L353.57,234.93 L354.63,235.23 L355.70,235.52 L356.77,235.82 L357.83,236.11 L358.90,236.40 L359.96,236.69 L361.03,236.97 L362.09,237.25 L363.16,237.53 L364.23,237.81 L365.29,238.09 L366.36,238.36 L367.42,238.63 L368.49,238.90 L369.56,239.16 L370.62,239.43 L371.69,239.69 L372.75,239.95 L373.82,240.20 L374.88,240.46 L375.95,240.71 L377.02,240.96 L378.08,241.21 L379.15,241.45 L380.21,241.70 L381.28,241.94 L382.34,242.18 L383.41,242.42 L384.48,242.66 L385.54,242.89 L386.61,243.12 L387.67,243.35 L388.74,243.58 L389.81,243.81 L390.87,244.03 L391.94,244.25 L393.00,244.48 L394.07,244.69 L395.13,244.91 L396.20,245.13 L397.27,245.34 L398.33,245.55 L399.40,245.76 L400.46,245.97 L401.53,246.18 L402.59,246.39 L403.66,246.59 L404.73,246.79 L405.79,246.99 L406.86,247.19 L407.92,247.39 L408.99,247.58 L410.06,247.78 L411.12,247.97 L412.19,248.16 L413.25,248.35 L414.32,248.54 L415.38,248.72 L416.45,248.91 L417.52,249.09 L418.58,249.27 L419.65,249.45 L420.71,249.63 L421.78,249.81 L422.84,249.99 L423.91,250.16 L424.98,250.34 L426.04,250.51 L427.11,250.68 L428.17,250.85 L429.24,251.02 L430.31,251.18 L431.37,251.35 L432.44,251.51 L433.50,251.68 L434.57,251.84 L435.63,252.00 L436.70,252.16 L437.77,252.32 L438.83,252.47 L439.90,252.63 L440.96,252.78 L442.03,252.94 L443.09,253.09 L444.16,253.24 L445.23,253.39 L446.29,253.54 L447.36,253.68 L448.42,253.83 L449.49,253.98 L450.56,254.12 L451.62,254.26 L452.69,254.41 L453.75,254.55 L454.82,254.69 L455.88,254.83 L456.95,254.96 L458.02,255.10 L459.08,255.24 L460.15,255.37 L461.21,255.50 L462.28,255.64 L463.34,255.77 L464.41,255.90 L465.48,256.03 L466.54,256.16 L467.61,256.29 L468.67,256.41 L469.74,256.54 L470.81,256.66 L471.87,256.79 L472.94,256.91 L474.00,257.03 L475.07,257.16 L476.13,257.28 L477.20,257.40" stroke="#2e8b57" stroke-width="0.9" stroke-dasharray="4.4 3.364" stroke-dashoffset="-0.4"/>
</g>
<g font-family="Liberation Serif, serif" font-size="9.4" fill="#000" style="will-change:transform" text-rendering="geometricPrecision">
<text x="51.95" y="290.1" text-anchor="middle">0</text>
<text x="112.70" y="290.1" text-anchor="middle">1</text>
<text x="173.45" y="290.1" text-anchor="middle">2</text>
<text x="234.20" y="290.1" text-anchor="middle">3</text>
<text x="294.95" y="290.1" text-anchor="middle">4</text>
<text x="355.70" y="290.1" text-anchor="middle">5</text>
<text x="416.45" y="290.1" text-anchor="middle">6</text>
<text x="477.00" y="288.0" text-anchor="middle">7</text>
<text transform="translate(40,282.40) scale(0.94,1)" text-anchor="end">0.0</text>
<text transform="translate(40,227.60) scale(0.94,1)" text-anchor="end">0.2</text>
<text transform="translate(40,172.80) scale(0.94,1)" text-anchor="end">0.4</text>
<text transform="translate(40,118.00) scale(0.94,1)" text-anchor="end">0.6</text>
<text transform="translate(40,63.20) scale(0.94,1)" text-anchor="end">0.8</text>
<text transform="translate(40,8.40) scale(0.94,1)" text-anchor="end">1.0</text>
</g>
<g transform="translate(258.4,314.7)"><g fill="none" stroke="#000" stroke-linecap="round" stroke-linejoin="round">
<path d="M6.0,-15.3 L7.0,-14.0" stroke-width="0.9"/>
<path d="M10.6,-14.0 C8.6,-13.9 7.6,-13.6 6.4,-13.0 C4.6,-12.0 3.7,-11.0 3.7,-9.9 C3.7,-8.3 5.4,-7.7 7.0,-7.6 L9.7,-7.5" stroke-width="1.1"/>
<path d="M5.2,-12.2 C4.1,-11.3 3.9,-10.4 4.1,-9.6 C4.3,-8.6 5.2,-8.1 6.2,-7.9" stroke-width="1.8"/>
<path d="M10.2,-13.9 L9.0,-13.6" stroke-width="2.1"/>
<path d="M6.6,-7.5 C4.2,-6.8 1.4,-5.2 1.4,-3.0 C1.4,-1.0 3.6,-0.6 5.6,-0.1 C7.2,0.3 8.5,0.9 8.5,2.2 C8.5,3.8 6.6,4.6 4.6,4.4 C3.8,4.3 3.2,4.1 2.9,3.8" stroke-width="1.0"/>
<path d="M2.6,-5.2 C1.7,-4.2 1.5,-3.3 1.8,-2.4 C2.2,-1.4 3.6,-1.0 5.4,-0.5 C6.6,-0.2 7.6,0.2 8.0,0.8" stroke-width="2.25"/>
<path d="M3.1,4.0 L3.4,3.7" stroke-width="1.6"/>
</g></g>
<g transform="translate(16.9,164.7) rotate(-90)" font-family="Liberation Serif, serif" fill="#000" style="will-change:transform" text-rendering="geometricPrecision">
<g transform="translate(5.3,-7.45) skewX(-15.6)"><path fill-rule="evenodd" d="M-4.8,0A4.8,7.95 0 1 0 4.8,0A4.8,7.95 0 1 0 -4.8,0ZM-3.05,0A3.05,7.35 0 1 1 3.05,0A3.05,7.35 0 1 1 -3.05,0Z"/><rect x="-3.6" y="0.25" width="7.2" height="0.9"/></g>
<text font-style="italic" font-size="17" transform="translate(11.2,4.4) scale(0.9,1)" stroke="#fff" stroke-width="0.15">3</text>
<text font-size="21.2" transform="translate(19.9,0) scale(0.9,1)">(</text>
<g transform="translate(27.1,0)"><g fill="none" stroke="#000" stroke-linecap="round" stroke-linejoin="round">
<path d="M6.0,-15.3 L7.0,-14.0" stroke-width="0.9"/>
<path d="M10.6,-14.0 C8.6,-13.9 7.6,-13.6 6.4,-13.0 C4.6,-12.0 3.7,-11.0 3.7,-9.9 C3.7,-8.3 5.4,-7.7 7.0,-7.6 L9.7,-7.5" stroke-width="1.1"/>
<path d="M5.2,-12.2 C4.1,-11.3 3.9,-10.4 4.1,-9.6 C4.3,-8.6 5.2,-8.1 6.2,-7.9" stroke-width="1.8"/>
<path d="M10.2,-13.9 L9.0,-13.6" stroke-width="2.1"/>
<path d="M6.6,-7.5 C4.2,-6.8 1.4,-5.2 1.4,-3.0 C1.4,-1.0 3.6,-0.6 5.6,-0.1 C7.2,0.3 8.5,0.9 8.5,2.2 C8.5,3.8 6.6,4.6 4.6,4.4 C3.8,4.3 3.2,4.1 2.9,3.8" stroke-width="1.0"/>
<path d="M2.6,-5.2 C1.7,-4.2 1.5,-3.3 1.8,-2.4 C2.2,-1.4 3.6,-1.0 5.4,-0.5 C6.6,-0.2 7.6,0.2 8.0,0.8" stroke-width="2.25"/>
<path d="M3.1,4.0 L3.4,3.7" stroke-width="1.6"/>
</g></g>
<text font-size="21.2" transform="translate(38.0,0) scale(0.9,1)">)</text>
</g>
</svg>
</body></html>
